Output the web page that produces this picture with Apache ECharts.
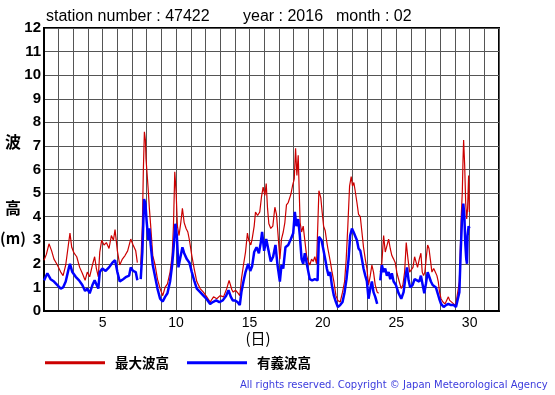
<!DOCTYPE html>
<html><head><meta charset="utf-8">
<script src="https://cdn.jsdelivr.net/npm/echarts@6/dist/echarts.min.js"></script>
<style>html,body{margin:0;padding:0;background:#fff}#c{width:555px;height:395px}</style>
</head><body><div id="c"></div>
<script>
// x tick labels shown on the day axis
const xTickLabels = [5, 10, 15, 20, 25, 30];
const seriesNames = ['最大波高', '有義波高'];

// [day, height (m)] — maximum wave height (red)
const maxWave = [
[1.00,2.15],[1.16,2.4],[1.34,2.85],[1.52,2.55],[1.68,2.2],[1.91,1.95],[2.14,1.65],[2.30,1.5],[2.48,1.95],[2.66,2.8],[2.77,3.3],[2.89,2.7],[3.05,2.45],[3.23,2.3],[3.43,1.85],[3.61,1.6],[3.80,1.3],[3.95,1.65],[4.11,1.45],[4.30,1.95],[4.45,2.3],[4.57,1.8],[4.70,1.45],[4.80,2.5],[4.93,3.0],[5.09,2.8],[5.25,2.9],[5.43,2.65],[5.59,3.2],[5.73,3.0],[5.84,3.45],[6.00,2.55],[6.16,1.95],[6.34,2.2],[6.52,2.35],[6.70,2.55],[6.91,3.05],[7.07,2.8],[7.25,2.55],[7.36,2.05],[7.48,null],
[7.59,1.95],[7.70,3.6],[7.77,6.0],[7.84,7.6],[7.91,7.25],[7.95,6.45],[8.05,5.6],[8.11,5.05],[8.18,4.35],[8.27,3.6],[8.41,2.35],[8.57,1.95],[8.73,1.35],[8.91,0.95],[9.09,0.65],[9.25,1.0],[9.41,1.15],[9.59,1.65],[9.73,2.35],[9.82,3.6],[9.91,5.9],[10.00,5.05],[10.09,3.6],[10.20,3.2],[10.32,3.75],[10.43,4.35],[10.55,3.75],[10.68,3.5],[10.80,3.35],[10.91,3.0],[11.07,2.35],[11.23,1.8],[11.41,1.25],[11.64,0.95],[11.86,0.8],[12.09,0.6],[12.32,0.38],[12.55,0.6],[12.77,0.52],[13.00,0.65],[13.23,0.6],[13.45,0.95],[13.61,1.3],[13.80,0.9],
[13.89,0.8],[14.05,0.88],[14.23,0.75],[14.34,0.65],[14.45,1.35],[14.59,1.95],[14.73,2.5],[14.86,3.3],[14.95,3.0],[15.09,2.8],[15.18,3.05],[15.32,3.6],[15.41,4.2],[15.55,4.05],[15.70,4.2],[15.82,4.85],[15.93,5.25],[16.05,4.9],[16.14,5.4],[16.23,4.35],[16.32,3.7],[16.45,3.5],[16.59,3.6],[16.73,4.4],[16.84,4.1],[16.95,3.2],[17.07,2.2],[17.18,3.05],[17.30,3.35],[17.41,3.75],[17.52,4.5],[17.64,4.6],[17.82,4.95],[17.93,5.3],[18.05,5.6],[18.14,6.9],[18.23,5.75],[18.32,6.6],[18.39,5.05],[18.45,3.75],[18.55,3.35],[18.66,3.6],[18.77,3.0],[18.89,2.35],[19.00,2.1],[19.11,1.95],[19.23,2.2],[19.34,2.1],[19.45,2.3],[19.57,2.0],[19.64,1.95],[19.73,5.1],[19.86,4.8],[19.95,4.2],[20.05,3.6],
[20.16,3.4],[20.25,3.0],[20.34,2.65],[20.43,2.7],[20.52,2.05],[20.61,1.7],[20.75,1.25],[20.89,0.65],[21.02,0.45],[21.18,0.38],[21.34,0.8],[21.48,1.25],[21.59,2.2],[21.70,3.6],[21.82,5.3],[21.93,5.7],[22.02,5.3],[22.11,5.45],[22.20,5.1],[22.32,4.6],[22.43,4.1],[22.55,4.0],[22.66,3.35],[22.77,2.7],[22.89,2.2],[23.00,1.8],[23.11,1.1],[23.23,1.5],[23.34,1.95],[23.45,1.65],[23.57,1.1],[23.70,0.8],[23.80,0.75],[23.85,null],[23.91,1.65],[24.02,2.05],[24.14,3.2],[24.25,2.5],[24.36,2.5],[24.48,3.05],[24.59,2.65],[24.70,2.35],[24.82,2.2],[24.93,2.05],[25.05,1.6],[25.20,1.25],[25.34,0.95],[25.45,1.1],[25.57,1.65],[25.68,2.9],[25.80,2.2],[25.91,1.65],[26.02,1.6],[26.14,1.85],[26.25,2.3],[26.36,2.05],
[26.45,1.85],[26.57,2.2],[26.68,2.45],[26.77,1.65],[26.86,1.5],[26.95,1.65],[27.05,2.3],[27.14,2.8],[27.23,2.65],[27.32,2.2],[27.43,1.65],[27.55,1.8],[27.66,1.65],[27.77,1.5],[27.86,1.25],[27.95,0.8],[28.05,0.52],[28.18,0.38],[28.32,0.3],[28.45,0.3],[28.55,0.6],[28.64,0.45],[28.77,0.38],[28.91,0.3],[29.05,0.25],[29.18,0.3],[29.30,1.25],[29.36,2.5],[29.43,4.05],[29.50,5.05],[29.55,6.45],[29.59,7.25],[29.66,6.2],[29.73,4.6],[29.80,3.9],[29.86,4.35],[29.93,5.75],[29.98,4.2]
];

// [day, height (m)] — significant wave height (blue)
const sigWave = [
[1.00,1.3],[1.23,1.6],[1.45,1.35],[1.68,1.25],[1.91,1.1],[2.14,0.95],[2.30,1.0],[2.48,1.25],[2.70,1.85],[2.77,2.0],[2.93,1.65],[3.16,1.45],[3.39,1.3],[3.61,1.1],[3.80,0.85],[3.95,0.95],[4.11,0.75],[4.30,1.1],[4.45,1.3],[4.59,1.1],[4.70,0.95],[4.80,1.65],[4.98,1.8],[5.20,1.7],[5.43,1.85],[5.66,2.05],[5.84,2.15],[6.00,1.65],[6.16,1.25],[6.39,1.35],[6.61,1.45],[6.80,1.5],[6.91,1.85],[7.07,1.7],[7.25,1.65],[7.36,1.3],[7.48,null],
[7.59,1.35],[7.70,2.5],[7.82,4.75],[7.91,4.55],[8.00,3.75],[8.11,3.0],[8.18,3.5],[8.27,2.8],[8.41,1.95],[8.57,1.45],[8.73,0.95],[8.91,0.52],[9.09,0.4],[9.25,0.6],[9.41,0.75],[9.59,1.25],[9.73,1.95],[9.86,2.9],[9.95,3.7],[10.05,3.2],[10.16,1.85],[10.27,2.2],[10.43,2.7],[10.55,2.45],[10.73,2.2],[10.91,2.05],[11.07,1.65],[11.23,1.3],[11.41,0.95],[11.64,0.8],[11.86,0.65],[12.09,0.5],[12.32,0.3],[12.50,0.38],[12.73,0.45],[12.95,0.38],[13.18,0.45],[13.41,0.65],[13.57,0.88],[13.73,0.6],[13.86,0.45],
[14.00,0.45],[14.18,0.38],[14.34,0.25],[14.45,0.8],[14.59,1.25],[14.73,1.65],[14.91,2.0],[15.05,1.7],[15.18,1.9],[15.32,2.5],[15.48,2.7],[15.64,2.45],[15.77,2.9],[15.86,3.35],[16.00,2.55],[16.14,3.05],[16.27,2.65],[16.45,2.1],[16.61,2.3],[16.77,2.8],[16.91,1.95],[17.07,1.25],[17.18,1.95],[17.30,1.8],[17.45,2.7],[17.64,2.8],[17.82,3.05],[17.98,3.3],[18.09,4.2],[18.20,3.6],[18.32,3.9],[18.43,3.2],[18.55,2.2],[18.66,2.0],[18.77,2.45],[18.95,1.85],[19.11,1.35],[19.27,1.3],[19.45,1.35],[19.64,1.3],[19.73,3.15],[19.91,3.0],[20.02,2.65],[20.16,2.2],
[20.27,1.8],[20.39,1.5],[20.50,1.65],[20.61,1.1],[20.75,0.65],[20.89,0.38],[21.02,0.17],[21.18,0.25],[21.34,0.38],[21.48,0.8],[21.61,1.35],[21.75,2.2],[21.86,3.2],[21.98,3.5],[22.09,3.35],[22.20,3.3],[22.32,3.0],[22.43,2.65],[22.55,2.55],[22.66,2.2],[22.77,1.8],[22.89,1.5],[23.00,1.25],[23.11,0.52],[23.23,0.95],[23.34,1.25],[23.45,0.8],[23.57,0.6],[23.70,0.3],[23.80,null],[23.91,1.3],[24.02,1.95],[24.14,1.65],[24.25,1.8],[24.36,1.5],[24.48,1.65],[24.59,1.35],[24.70,1.6],[24.82,1.25],[24.98,1.1],[25.16,0.75],[25.34,0.52],[25.50,0.8],[25.61,1.35],[25.73,1.85],[25.84,1.3],[25.95,1.0],[26.11,1.1],[26.25,1.35],[26.41,1.3],
[26.57,1.25],[26.68,1.5],[26.80,1.1],[26.91,0.75],[27.02,1.15],[27.14,1.65],[27.25,1.65],[27.36,1.25],[27.48,1.1],[27.59,1.1],[27.70,1.0],[27.82,0.95],[27.93,0.52],[28.05,0.3],[28.23,0.17],[28.39,0.25],[28.55,0.3],[28.73,0.25],[28.91,0.25],[29.07,0.17],[29.18,0.17],[29.30,0.8],[29.39,2.5],[29.48,3.9],[29.57,4.55],[29.64,4.05],[29.70,2.9],[29.77,2.2],[29.82,2.0],[29.86,3.2],[29.93,3.6],[29.98,3.5]
];

const titleParts = ['station number : 47422', 'year : 2016', 'month : 02'];
const copyright = 'All rights reserved. Copyright \u00a9 Japan Meteorological Agency';

const toData = arr => arr.map(p => [p[0], p[1] === null ? '-' : p[1]]);

const chart = echarts.init(document.getElementById('c'), null, {renderer: 'canvas'});
chart.setOption({
  animation: false,
  backgroundColor: '#fff',
  grid: {left: 44, right: 56, top: 28, bottom: 84, show: true, borderColor: '#000', borderWidth: 2, backgroundColor: '#fff'},
  xAxis: {
    type: 'value', min: 1, max: 32, interval: 1,
    axisLine: {show: true, lineStyle: {color: '#000', width: 2}},
    axisTick: {show: false},
    splitLine: {show: true, lineStyle: {color: '#555', width: 1}},
    axisLabel: {
      formatter: v => xTickLabels.includes(v) ? String(v) : '',
      color: '#000', fontSize: 14, fontFamily: 'Liberation Sans', margin: 5,
      showMinLabel: true, showMaxLabel: true
    }
  },
  yAxis: {
    type: 'value', min: 0, max: 12, interval: 1,
    axisLine: {show: true, lineStyle: {color: '#000', width: 2}},
    axisTick: {show: false},
    splitLine: {show: true, lineStyle: {color: '#555', width: 1}},
    axisLabel: {color: '#000', fontSize: 15, fontWeight: 'bold', fontFamily: 'Liberation Sans', margin: 3}
  },
  legend: {
    data: seriesNames, left: 45, top: 356, padding: 0, icon: 'rect', itemWidth: 60, itemHeight: 3, itemGap: 18,
    textStyle: {fontSize: 13.5, fontWeight: 'bold', color: '#000', fontFamily: 'Noto Sans CJK JP', padding: [0, 0, 0, 5]}
  },
  series: [
    {type: 'line', name: seriesNames[0], data: toData(maxWave), symbol: 'none', connectNulls: false,
     lineStyle: {color: '#cc0000', width: 1.2}, itemStyle: {color: '#cc0000'}, z: 2},
    {type: 'line', name: seriesNames[1], data: toData(sigWave), symbol: 'none', connectNulls: false,
     lineStyle: {color: '#0000ff', width: 2.5}, itemStyle: {color: '#0000ff'}, z: 3}
  ],
  graphic: [
    {type: 'text', x: 46, y: 17, style: {text: titleParts[0], font: '16px "Liberation Sans"', fill: '#000', verticalAlign: 'middle'}},
    {type: 'text', x: 243, y: 17, style: {text: titleParts[1], font: '16px "Liberation Sans"', fill: '#000', verticalAlign: 'middle'}},
    {type: 'text', x: 336, y: 17, style: {text: titleParts[2], font: '16px "Liberation Sans"', fill: '#000', verticalAlign: 'middle'}},
    {type: 'text', x: 13, y: 142, style: {text: '波', font: 'bold 16px "Noto Sans CJK JP"', fill: '#000', align: 'center', verticalAlign: 'middle'}},
    {type: 'text', x: 13, y: 208, style: {text: '高', font: 'bold 16px "Noto Sans CJK JP"', fill: '#000', align: 'center', verticalAlign: 'middle'}},
    {type: 'text', x: 13, y: 238, style: {text: '(m)', font: 'bold 15px "Noto Sans CJK JP"', fill: '#000', align: 'center', verticalAlign: 'middle'}},
    {type: 'text', x: 258, y: 338, style: {text: '(日)', font: '15px "Noto Sans CJK JP"', fill: '#000', align: 'center', verticalAlign: 'middle'}},
    {type: 'text', x: 240, y: 385, style: {text: copyright, font: '10px "DejaVu Sans"', fill: '#3b3bdd', align: 'left', verticalAlign: 'middle'}}
  ]
});
</script></body></html>
